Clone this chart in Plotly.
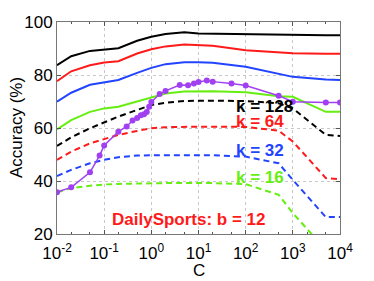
import plotly.graph_objects as go

C = [0.01, 0.02, 0.05, 0.1, 0.2, 0.5, 1, 2, 5, 10, 20, 100, 500, 1000, 5000, 10000]

k128_b = [83.7, 87.1, 89.1, 89.6, 90.1, 92.9, 94.4, 95.5, 96.1, 95.7, 95.6, 95.4, 95.1, 95.0, 95.0, 95.0]
k64_b = [77.7, 81.4, 83.7, 84.7, 85.2, 88.1, 89.7, 90.8, 91.5, 91.3, 91.0, 89.3, 88.6, 88.2, 88.0, 88.0]
k32_b = [69.9, 73.3, 76.3, 77.2, 78.1, 80.8, 82.7, 84.1, 84.8, 84.8, 84.6, 83.1, 80.6, 79.3, 78.3, 78.1]
k16_b = [59.5, 63.0, 66.1, 67.4, 68.0, 69.9, 71.5, 73.0, 73.8, 73.9, 73.9, 73.5, 72.0, 71.8, 66.1, 66.1]

k128_d = [53.2, 56.5, 59.9, 62.1, 64.3, 66.8, 68.7, 69.5, 70.2, 70.3, 70.3, 70.2, 69.3, 67.4, 57.4, 57.0]
k64_d = [48.0, 51.1, 54.2, 55.7, 57.4, 58.9, 59.9, 60.3, 60.5, 60.5, 60.5, 60.4, 59.0, 54.9, 41.1, 40.7]
k32_d = [41.9, 44.2, 46.7, 48.0, 49.0, 49.6, 49.7, 49.7, 49.7, 49.7, 49.7, 49.2, 46.7, 40.4, 26.4, 26.4]
k16_d = [35.7, 37.3, 38.2, 38.7, 38.9, 39.1, 39.2, 39.2, 39.2, 39.2, 39.2, 38.8, 34.8, 27.9, 14.0, 14.0]

C_svm = [0.01, 0.02, 0.05, 0.08, 0.1, 0.2, 0.3, 0.4, 0.5, 0.6, 0.7, 0.8, 0.9, 1, 1.5, 2, 4, 6, 8, 10, 15, 20, 50, 100, 500, 1000, 5000, 10000]
svm = [35.8, 37.6, 43.3, 49.6, 53.4, 58.6, 60.6, 62.8, 63.8, 64.8, 65.2, 66.0, 68.0, 69.8, 72.8, 74.0, 76.2, 76.1, 76.8, 77.4, 77.9, 77.5, 76.8, 76.0, 72.2, 69.9, 69.6, 69.6]

x_ticks = [0.01, 0.1, 1, 10, 100, 1000, 10000]
x_ticktext = ["10<sup>-2</sup>", "10<sup>-1</sup>", "10<sup>0</sup>", "10<sup>1</sup>",
              "10<sup>2</sup>", "10<sup>3</sup>", "10<sup>4</sup>"]
y_ticks = [20, 40, 60, 80, 100]

labels = ["k = 128", "k = 64", "k = 32", "k = 16"]
title_text = "DailySports: b = 12"
x_title = "C"
y_title = "Accuracy (%)"

BLACK = "#000000"
RED = "#FF1A1A"
BLUE = "#2244FF"
GREEN = "#66EE11"
PURPLE = "#A040F0"

fig = go.Figure()
series = [(k128_b, BLACK), (k64_b, RED), (k32_b, BLUE), (k16_b, GREEN)]
for ys, col in series:
    fig.add_trace(go.Scatter(x=C, y=ys, mode="lines", line=dict(color=col, width=2), showlegend=False))
dseries = [(k128_d, BLACK), (k64_d, RED), (k32_d, BLUE), (k16_d, GREEN)]
for ys, col in dseries:
    fig.add_trace(go.Scatter(x=C, y=ys, mode="lines", line=dict(color=col, width=2, dash="6px,4px"), showlegend=False))
fig.add_trace(go.Scatter(x=C_svm, y=svm, mode="lines+markers", line=dict(color=PURPLE, width=1.5),
                         marker=dict(color=PURPLE, size=6), showlegend=False))

font = "Liberation Sans, Arial, Helvetica, sans-serif"
label_pos = [(1.76, 68.0, BLACK), (1.76, 62.6, RED), (1.76, 51.4, BLUE), (1.76, 41.4, GREEN)]
for txt, (lx, ly, col) in zip(labels, label_pos):
    fig.add_annotation(x=lx, y=ly, text="<b>" + txt + "</b>", showarrow=False, xanchor="left",
                       yanchor="middle", font=dict(family=font, size=17, color=col))
fig.add_annotation(x=0.79, y=25.3, text="<b>" + title_text + "</b>", showarrow=False, xanchor="center",
                   yanchor="middle", font=dict(family=font, size=17, color=RED))

# axis titles
fig.add_annotation(xref="paper", yref="paper", x=0.5, y=0, yshift=-36, text=x_title, showarrow=False,
                   xanchor="center", yanchor="middle", font=dict(family=font, size=17, color="black"))
fig.add_annotation(xref="paper", yref="paper", x=0, y=0.5, xshift=-41, text=y_title, showarrow=False,
                   textangle=-90, xanchor="center", yanchor="middle",
                   font=dict(family=font, size=17, color="black"))

fig.update_layout(
    width=366, height=273,
    margin=dict(l=49, r=34, t=14, b=47),
    paper_bgcolor="white", plot_bgcolor="white",
    font=dict(family=font, size=16, color="black"),
    xaxis=dict(type="log", range=[-2, 4], tickvals=x_ticks, ticktext=x_ticktext, automargin=False,
               showgrid=True, gridcolor="#c8c8c8", griddash="dot", gridwidth=1,
               ticks="inside", ticklen=4, tickcolor="#555", showline=True, linecolor="#777",
               linewidth=1, mirror="ticks", zeroline=False, ticklabelstandoff=4,
               minor=dict(ticks="inside", ticklen=2, tickcolor="#555", showgrid=False),
               tickfont=dict(size=17)),
    yaxis=dict(range=[20, 100], tickvals=y_ticks, showgrid=True, gridcolor="#c8c8c8", griddash="dot",
               automargin=False, gridwidth=1, ticks="inside", ticklen=4, tickcolor="#555", showline=True,
               linecolor="#777", linewidth=1, mirror="ticks", zeroline=False,
               tickfont=dict(size=17)),
)

fig.write_html("out.html")
